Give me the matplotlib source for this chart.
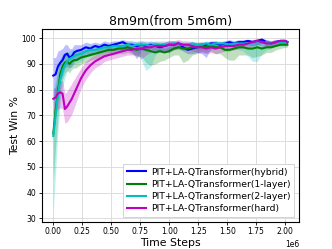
import matplotlib
matplotlib.use("Agg")
import matplotlib.pyplot as plt
import numpy as np

title = "8m9m(from 5m6m)"
xlabel = "Time Steps"
ylabel = "Test Win %"

steps = [0.00, 0.02, 0.04, 0.06, 0.08, 0.10, 0.12, 0.14, 0.16, 0.18, 0.20,
         0.24, 0.28, 0.32, 0.36, 0.40, 0.44, 0.48, 0.52, 0.56, 0.60,
         0.64, 0.68, 0.72, 0.76, 0.80, 0.84, 0.88, 0.92, 0.96, 1.00,
         1.04, 1.08, 1.12, 1.16, 1.20, 1.24, 1.28, 1.32, 1.36, 1.40,
         1.44, 1.48, 1.52, 1.56, 1.60, 1.64, 1.68, 1.72, 1.76, 1.80,
         1.84, 1.88, 1.92, 1.96, 2.00, 2.02]

labels = ["PIT+LA-QTransformer(hybrid)", "PIT+LA-QTransformer(1-layer)",
          "PIT+LA-QTransformer(2-layer)", "PIT+LA-QTransformer(hard)"]

hybrid_mean = [85.5, 86, 89, 90.5, 91.5, 93.5, 94, 92.5, 93, 94.5, 95,
               95.5, 96.5, 96, 97, 96.5, 97.5, 97, 97.5, 98, 98.5,
               97.5, 97.5, 97, 97.5, 97, 97.5, 97, 96.5, 97, 97.5,
               97.5, 98, 96.5, 95.5, 96, 96.5, 97, 97.5, 98, 98,
               97.5, 98, 98.5, 98, 98.5, 98.5, 99, 98.5, 99, 99.5,
               98.5, 98, 98.5, 99, 99, 98.5]
hybrid_lo = [10, 9, 8, 7, 6, 5, 5, 4, 4, 3.5, 3,
             3, 2.5, 2.5, 2, 2, 2, 2, 2, 2, 2,
             2, 3, 5, 2, 2, 1.5, 2, 2, 2.5, 3,
             2, 2, 1.5, 1.5, 2, 2, 3, 5, 2, 1.5,
             1.5, 1.5, 1.5, 1.5, 1.5, 1.5, 1.5, 1.5, 1.5, 1.5,
             1.5, 1, 1, 1, 1, 1]
hybrid_hi = [7, 6.5, 6, 5, 4.5, 4, 3.5, 3.5, 3, 3, 2.5,
             2, 2, 2, 1.5, 1.5, 1.5, 1.5, 1.5, 1, 1,
             1.5, 1.5, 1.5, 1.5, 1.5, 1.5, 1.5, 1.5, 1.5, 1.5,
             1.5, 1, 1.5, 1.5, 1.5, 1.5, 1.5, 1, 1, 1,
             1, 1, 1, 1, 1, 1, 0.5, 1, 0.5, 0.5,
             1, 1, 1, 0.5, 0.5, 0.5]

one_mean = [63, 72, 79, 86, 89, 90.5, 91, 90, 91, 91.5, 91.5,
            92.5, 93, 93.5, 94, 94.5, 95, 95.5, 95.5, 96, 96,
            96.5, 96, 95.5, 96, 95.5, 95, 94.5, 95, 94.5, 95,
            96, 96.5, 96, 96, 96.5, 96.5, 97, 96.5, 97, 96.5,
            96.5, 95.5, 95.5, 96, 96.5, 96.5, 96, 96, 96.5, 96,
            96.5, 96.5, 97, 97.5, 97.5, 97.5]
one_lo = [18, 14, 10, 7, 5, 4, 3.5, 3.5, 3, 3, 3,
          2.5, 2.5, 2, 2, 2, 2, 2, 2, 2, 2,
          2, 2, 2.5, 3, 5, 5.5, 4.5, 4, 3, 2.5,
          2.5, 3, 5.5, 4.5, 3, 2.5, 2, 2, 2, 2.5,
          2.5, 3, 4, 4.5, 3, 3, 2.5, 3.5, 3.5, 2.5,
          2, 2, 1.5, 1.5, 1, 1]
one_hi = [12, 10, 8, 6, 5, 4, 4, 3.5, 3, 3, 3,
          2.5, 2, 2, 2, 2, 2, 2, 1.5, 1.5, 1.5,
          1.5, 1.5, 1.5, 1.5, 1.5, 2, 2, 2, 1.5, 1.5,
          1.5, 1.5, 1.5, 1.5, 1.5, 1.5, 1.5, 1.5, 1.5, 1.5,
          1.5, 2, 2, 1.5, 1.5, 1.5, 1.5, 1.5, 1.5, 1.5,
          1.5, 1.5, 1.5, 1, 1, 1]

two_mean = [62, 70, 78, 84, 87.5, 89.5, 91, 92, 92.5, 93, 93.5,
            94, 95, 95.5, 95.5, 96, 96.5, 96.5, 97, 97, 97,
            97.5, 97, 97.5, 97.5, 97.5, 97, 97.5, 97.5, 97.5, 97.5,
            98, 97.5, 97.5, 97.5, 98, 97.5, 97.5, 98, 97.5, 98,
            98, 98, 97.5, 98, 98, 98, 98, 98, 98, 98,
            98.5, 98, 98.5, 98.5, 98.5, 98.5]
two_lo = [29, 22, 14, 9, 6.5, 5, 4, 3.5, 3, 3, 3,
          3, 2.5, 2.5, 2, 2, 2, 2, 2, 2, 2,
          2, 2, 3, 6, 10, 8, 4, 2.5, 2, 2,
          2, 2, 2, 2, 2, 2, 2, 2, 2, 2,
          2, 2, 2, 2, 2.5, 3, 5, 7, 7, 4,
          3, 2, 1.5, 1.5, 1.5, 1.5]
two_hi = [18, 14, 10, 7, 5, 4, 3.5, 3, 3, 2.5, 2.5,
          2, 2, 2, 2, 2, 1.5, 1.5, 1.5, 1.5, 1.5,
          1.5, 1.5, 1.5, 1.5, 1.5, 1.5, 1.5, 1.5, 1.5, 1.5,
          1, 1, 1, 1, 1, 1, 1, 1, 1, 1,
          1, 1, 1, 1, 1, 1, 1, 1, 1, 1,
          1, 1, 1, 1, 1, 1]

hard_mean = [76.5, 77, 78.5, 79, 78.5, 72.5, 73.5, 75, 76.5, 78.5, 80.5,
             84.5, 87.5, 89.5, 91, 92, 93, 93.5, 94, 94.5, 95,
             95.5, 95.5, 96, 96, 96.5, 96.5, 97, 97, 97, 97.5,
             97.5, 98, 97.5, 97.5, 97, 96.5, 96.5, 96, 96.5, 96,
             96.5, 97, 97, 97, 97.5, 97.5, 98, 98.5, 99, 98.5,
             98, 98, 98.5, 99, 99, 98.5]
hard_lo = [6, 6, 6, 6, 6, 5.5, 6, 6, 6, 5.5, 5,
           4, 3.5, 3, 2.5, 2.5, 2, 2, 2, 2, 2,
           2, 2, 2.5, 4, 3, 2, 2, 2, 2, 2,
           2, 2, 2, 2, 2, 2, 2, 2, 2, 2,
           2, 2, 2, 1.5, 1.5, 1.5, 1.5, 1.5, 1.5, 1.5,
           1.5, 1.5, 1, 1, 1, 1]
hard_hi = [4, 4, 4, 4.5, 5, 6, 6, 6, 6, 5.5, 5,
           4, 3.5, 3, 2.5, 2.5, 2, 2, 2, 2, 2,
           2, 2, 1.5, 1.5, 1.5, 1.5, 1.5, 1.5, 1.5, 1.5,
           1.5, 1.5, 1.5, 1.5, 1.5, 2, 2, 2, 2, 2,
           1.5, 1.5, 1.5, 1.5, 1.5, 1.5, 1, 1, 1, 1,
           1, 1, 1, 0.5, 0.5, 0.5]

colors = ["#0000ff", "#008000", "#00bfbf", "#bf00bf"]

series = [(hybrid_mean, hybrid_lo, hybrid_hi),
          (one_mean, one_lo, one_hi),
          (two_mean, two_lo, two_hi),
          (hard_mean, hard_lo, hard_hi)]

fig = plt.figure(figsize=(3.32, 2.49), dpi=100)
ax = fig.add_axes([0.1256, 0.1096, 0.7750, 0.7739])

x = np.array(steps) * 1e6
for (m, lo, hi), c, lab in zip(series, colors, labels):
    m = np.array(m, dtype=float)
    lo = np.array(lo, dtype=float)
    hi = np.array(hi, dtype=float)
    ax.fill_between(x, m - lo, m + hi, color=c, alpha=0.25, linewidth=0)
for (m, lo, hi), c, lab in zip(series, colors, labels):
    ax.plot(x, m, color=c, linewidth=1.5, label=lab)

ax.set_xlim(-0.1e6, 2.12e6)
ax.set_ylim(28.7, 103.6)
ax.set_xticks(np.arange(0, 2.01e6, 0.25e6))
ax.set_yticks(np.arange(30, 101, 10))
ax.tick_params(labelsize=5.5, length=2.5, width=0.6, pad=1.5)
ax.xaxis.get_offset_text().set_fontsize(5.5)
ax.grid(True, color="#dddddd", linewidth=0.7)
ax.set_axisbelow(True)
for s in ax.spines.values():
    s.set_linewidth(0.8)
ax.set_title(title, fontsize=9, pad=3)
ax.set_xlabel(xlabel, fontsize=7.8, labelpad=1)
ax.set_ylabel(ylabel, fontsize=7.8, labelpad=1)
leg = ax.legend(loc="lower right", fontsize=6.7, handlelength=2.0,
                borderpad=0.4, labelspacing=0.35, handletextpad=0.6,
                framealpha=1, fancybox=False, edgecolor="#cccccc",
                borderaxespad=0.5)
leg.get_frame().set_linewidth(0.6)

fig.savefig("out.png", dpi=100)
